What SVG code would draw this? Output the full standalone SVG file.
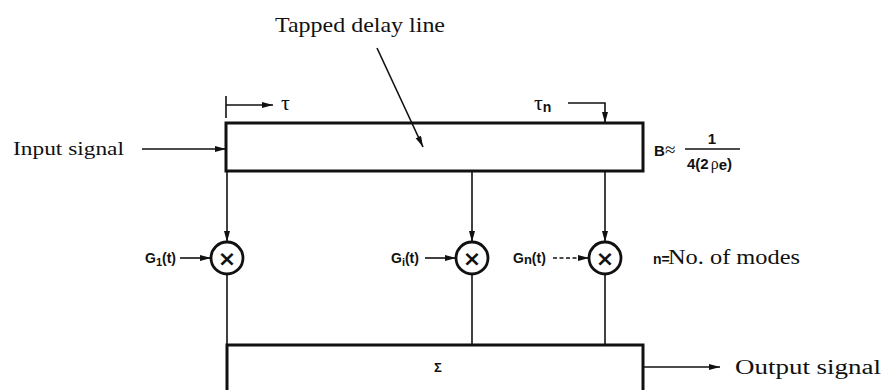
<svg xmlns="http://www.w3.org/2000/svg" width="884" height="390" viewBox="0 0 884 390">
<defs>
<marker id="ah" markerUnits="userSpaceOnUse" markerWidth="12" markerHeight="8" refX="11" refY="3" orient="auto">
<path d="M0,0 L11,3 L0,6 z" fill="#111"/>
</marker>
<style>
.box{fill:none;stroke:#111;stroke-width:3}
.ln{fill:none;stroke:#111;stroke-width:1.6}
.circ{fill:#fff;stroke:#111;stroke-width:2.8}
.serif{font-family:"Liberation Serif","Times New Roman",serif;fill:#111}
.sans{font-family:"Liberation Sans",Arial,sans-serif;font-weight:bold;fill:#111}
.x{font-family:"DejaVu Sans","Liberation Sans",sans-serif;font-weight:bold;fill:#111}
</style>
</defs>
<rect width="884" height="390" fill="#fff"/>

<g id="title">
<text class="serif" x="275" y="32" font-size="21" textLength="170" lengthAdjust="spacingAndGlyphs">Tapped delay line</text>
</g>

<g id="delay-line">
<rect class="box" x="226" y="123" width="417" height="48"/>
</g>

<g id="input">
<text class="serif" x="13" y="155" font-size="19" textLength="111" lengthAdjust="spacingAndGlyphs">Input signal</text>
</g>

<g id="bandwidth">
<text class="sans" x="654" y="156" font-size="15">B</text>
<text class="serif" x="665" y="156" font-size="19">≈</text>
<text class="sans" x="712" y="144" font-size="15" text-anchor="middle">1</text>
<line x1="685" y1="149" x2="740" y2="149" stroke="#111" stroke-width="1.3"/>
<text class="sans" x="687" y="169" font-size="15">4(2<tspan class="serif" font-weight="normal" dx="2" font-size="16">ρ</tspan><tspan dy="1">e</tspan><tspan dy="-1">)</tspan></text>
</g>

<g id="tau">
<text class="serif" x="281" y="110" font-size="22">τ</text>
<text class="serif" x="534" y="110" font-size="22">τ<tspan class="sans" font-size="14" dy="2">n</tspan></text>
</g>

<g id="mult-1">
<circle class="circ" cx="227" cy="258" r="16"/>
<text class="x" x="227" y="266" font-size="22" text-anchor="middle">×</text>
<text class="sans" x="145" y="263" font-size="14">G<tspan font-size="11" dy="3">1</tspan><tspan dy="-3">(t)</tspan></text>
</g>

<g id="mult-i">
<circle class="circ" cx="472" cy="258" r="16"/>
<text class="x" x="472" y="266" font-size="22" text-anchor="middle">×</text>
<text class="sans" x="391" y="263" font-size="14">G<tspan font-size="11" dy="3">i</tspan><tspan dy="-3">(t)</tspan></text>
</g>

<g id="mult-n">
<circle class="circ" cx="605" cy="258" r="16"/>
<text class="x" x="605" y="266" font-size="22" text-anchor="middle">×</text>
<text class="sans" x="513" y="263" font-size="14">G<tspan font-size="13" dy="1">n</tspan><tspan dy="-1">(t)</tspan></text>
</g>

<g id="modes-note">
<text class="sans" x="653" y="264" font-size="14">n=</text>
<text class="serif" x="668" y="264" font-size="20" textLength="132" lengthAdjust="spacingAndGlyphs">No. of modes</text>
</g>

<g id="sum">
<rect class="box" x="227" y="345" width="416" height="50"/>
<text class="sans" x="438" y="372" font-size="13" text-anchor="middle">Σ</text>
</g>

<g id="output">
<text class="serif" x="735" y="374" font-size="20" textLength="146" lengthAdjust="spacingAndGlyphs">Output signal</text>
</g>

<g id="connectors">
<line class="ln" x1="377" y1="48" x2="423" y2="147" marker-end="url(#ah)"/>
<line class="ln" x1="142" y1="149" x2="226" y2="149" marker-end="url(#ah)"/>
<line class="ln" x1="226" y1="96" x2="226" y2="118"/>
<line class="ln" x1="226" y1="105" x2="273" y2="105" marker-end="url(#ah)"/>
<polyline class="ln" points="568,103 605,103 605,123" marker-end="url(#ah)"/>
<line class="ln" x1="227" y1="171" x2="227" y2="242" marker-end="url(#ah)"/>
<line class="ln" x1="472" y1="171" x2="472" y2="242" marker-end="url(#ah)"/>
<line class="ln" x1="605" y1="171" x2="605" y2="242" marker-end="url(#ah)"/>
<line class="ln" x1="180" y1="258" x2="211" y2="258" marker-end="url(#ah)"/>
<line class="ln" x1="425" y1="258" x2="456" y2="258" marker-end="url(#ah)"/>
<line class="ln" x1="553" y1="258" x2="589" y2="258" stroke-dasharray="4,2.5" marker-end="url(#ah)"/>
<line class="ln" x1="227" y1="274" x2="227" y2="345"/>
<line class="ln" x1="472" y1="274" x2="472" y2="345"/>
<line class="ln" x1="605" y1="274" x2="605" y2="345"/>
<line class="ln" x1="643" y1="367" x2="720" y2="367" marker-end="url(#ah)"/>
</g>
</svg>
